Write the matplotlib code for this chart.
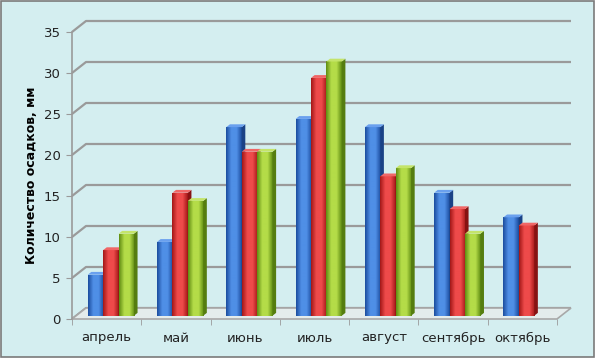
import numpy as np
import matplotlib
matplotlib.use('Agg')
import matplotlib.pyplot as plt
from matplotlib.patches import Rectangle, Polygon
from matplotlib.colors import LinearSegmentedColormap

# данные
months = ['апрель', 'май', 'июнь', 'июль', 'август', 'сентябрь', 'октябрь']
series1 = [5, 9, 23, 24, 23, 15, 12]
series2 = [8, 15, 20, 29, 17, 13, 11]
series3 = [10, 14, 20, 31, 18, 10, np.nan]
yticks = [0, 5, 10, 15, 20, 25, 30, 35]

W, H = 609, 359
fig = plt.figure(figsize=(W / 100, H / 100), dpi=100)
fig.patch.set_facecolor('white')

# фон и рамка всей диаграммы
fig.add_artist(Rectangle((0.5 / W, 2 / H), 593 / W, 356 / H, transform=fig.transFigure,
                         facecolor='#d4eef0', edgecolor='#7a7a7a', lw=1.2, zorder=-10))

# передняя плоскость x 72..557, y 319..32 (пиксели)
x0, x1, yb, yt = 72, 557, 319, 32
ax = fig.add_axes([x0 / W, (H - yb) / H, (x1 - x0) / W, (yb - yt) / H])
ax.set_facecolor('none')
n = len(months)
ax.set_xlim(0, n)
ax.set_ylim(0, 35)

ux = n / (x1 - x0)      # единиц данных на пиксель по x
uy = 35 / (yb - yt)     # единиц данных на пиксель по y
dx, dy = 14 * ux, 11 * uy   # глубина "3D"

grid_c = '#9a9a9a'
# сетка на задней и левой стенках
for v in yticks:
    ax.plot([0, dx, n + dx], [v, v + dy, v + dy], color=grid_c, lw=1.6,
            clip_on=False, zorder=1, solid_capstyle='butt')

# пол
floor = Polygon([(0, 0), (n, 0), (n + dx, dy), (dx, dy)], closed=True,
                facecolor='#e4ecec', edgecolor='#a8a8a8', lw=1.2, clip_on=False, zorder=2)
ax.add_patch(floor)

# столбцы
bw = 15.4 * ux
fx, fy = 4.2 * ux, 3.3 * uy          # смещение передней грани
sx, sy = 3.6 * ux, 2.8 * uy          # глубина столбца
styles = [
    ('#1b4c9e', '#4f8fe6', '#1a4286', '#6aa0ee'),
    ('#a31717', '#ee4a4a', '#861212', '#f06666'),
    ('#5f8c12', '#b4dc48', '#557d10', '#c4e46a'),
]
x = np.arange(n) + 0.5
offsets = [-bw, 0, bw]
for k, vals in enumerate([series1, series2, series3]):
    dark, light, side, top = styles[k]
    cmap = LinearSegmentedColormap.from_list('g%d' % k, [dark, light, light, dark])
    grad = np.linspace(0, 1, 64).reshape(1, -1)
    for i, v in enumerate(vals):
        if np.isnan(v):
            continue
        cx = x[i] + offsets[k] + fx
        left = cx - bw / 2
        b = ax.bar(cx, v, bw, bottom=fy, color=light, lw=0, zorder=5 + k, clip_on=False)[0]
        im = ax.imshow(grad, cmap=cmap, aspect='auto', extent=(left, left + bw, fy, fy + v),
                       zorder=5 + k, clip_on=False)
        im.set_clip_path(b)
        # боковая грань
        ax.add_patch(Polygon([(left + bw, fy), (left + bw + sx, fy + sy),
                              (left + bw + sx, fy + v + sy), (left + bw, fy + v)],
                             closed=True, facecolor=side, lw=0, zorder=5 + k, clip_on=False))
        # верхняя грань
        ax.add_patch(Polygon([(left, fy + v), (left + bw, fy + v),
                              (left + bw + sx, fy + v + sy), (left + sx, fy + v + sy)],
                             closed=True, facecolor=top, lw=0,
                             zorder=5 + k, clip_on=False))

# оси
for s in ['top', 'right', 'bottom']:
    ax.spines[s].set_visible(False)
ax.spines['left'].set_color(grid_c)
ax.spines['left'].set_linewidth(1.2)
ax.set_yticks(yticks)
ax.set_yticklabels([str(t) for t in yticks], fontsize=9.5, color='#222222')
ax.set_xticks(x)
ax.set_xticklabels(months, fontsize=9.5, color='#222222')
ax.set_xticks(np.arange(n + 1), minor=True)
ax.tick_params(axis='y', length=4, color=grid_c, pad=4)
ax.tick_params(axis='x', which='major', length=0, pad=9)
ax.tick_params(axis='x', which='minor', length=4, color=grid_c)
ax.set_ylabel('Количество осадков, мм', fontsize=9, fontweight='bold', labelpad=4)

fig.savefig('out.png', dpi=100, facecolor='white')
